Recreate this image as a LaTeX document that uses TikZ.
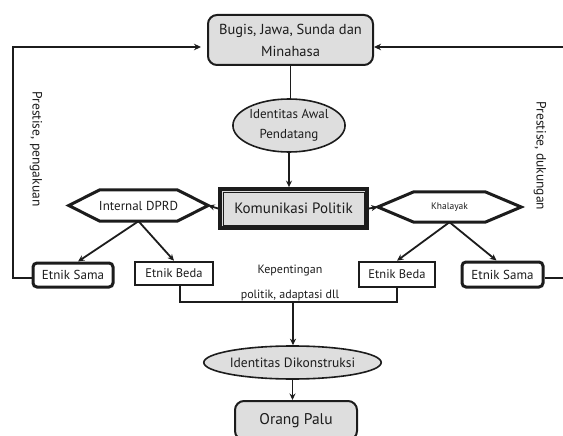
\documentclass[tikz,border=0pt]{standalone}
\usepackage{fontspec}
\setmainfont{PT Sans}
\usetikzlibrary{arrows.meta,calc,shapes.geometric}
\definecolor{boxgray}{RGB}{222,222,222}
\definecolor{ink}{RGB}{28,28,28}
\begin{document}
\begin{tikzpicture}[x=1pt,y=-1pt,
  every node/.style={inner sep=0pt, text=ink},
  roundbox/.style={draw=ink, fill=boxgray, rounded corners=9pt, line width=2pt, align=center},
  ellbox/.style={ellipse, draw=ink, fill=boxgray, line width=1.6pt, align=center},
  samabox/.style={draw=ink, fill=white, rounded corners=4pt, line width=3pt},
  bedabox/.style={draw=ink, fill=white, line width=2.5pt},
  hexline/.style={draw=ink, line width=3pt, line join=miter},
  conn/.style={draw=ink, line width=1.8pt},
  arr/.style={conn, -{Stealth[length=6.5pt,width=6pt]}},
  fb/.style={draw=ink, line width=2pt, -{Stealth[length=7pt,width=6.5pt]}},
  lbl/.style={font=\fontsize{13.5}{16}\selectfont, rotate=-90}
]
\useasboundingbox (0,0) rectangle (563,436);

% top box
\node[roundbox, minimum width=165, minimum height=50,
      font=\fontsize{14.5}{22}\selectfont] (top) at (290.5,40) {Bugis, Jawa, Sunda dan\\Minahasa};

% first ellipse
\node[ellbox, minimum width=108, minimum height=53,
      font=\fontsize{13}{20}\selectfont] (e1) at (289,125.5) {Identitas Awal\\Pendatang};

% Komunikasi Politik
\node[draw=ink, fill=boxgray, line width=3.8pt, minimum width=147, minimum height=39,
      font=\fontsize{15}{18}\selectfont] (kp) at (293.5,208.5) {Komunikasi Politik};
\draw[ink, line width=0.8pt] ($(kp.north west)+(5,5)$) rectangle ($(kp.south east)+(-5,-5)$);

% hexagons
\node[minimum width=139, minimum height=31, font=\fontsize{13}{15}\selectfont] (h1) at (138.5,205.5) {Internal DPRD};
\draw[hexline] (h1.west) -- ($(h1.north west)+(31,0)$) -- ($(h1.north east)+(-31,0)$) -- (h1.east)
  -- ($(h1.south east)+(-31,0)$) -- ($(h1.south west)+(31,0)$) -- cycle;
\node[minimum width=143, minimum height=30, font=\fontsize{9.5}{11}\selectfont] (h2) at (449.5,207) {Khalayak};
\draw[hexline] (h2.west) -- ($(h2.north west)+(36,0)$) -- ($(h2.north east)+(-36,0)$) -- (h2.east)
  -- ($(h2.south east)+(-36,0)$) -- ($(h2.south west)+(36,0)$) -- cycle;

% etnik boxes
\node[samabox, minimum width=80, minimum height=24, font=\fontsize{13}{15}\selectfont] (es1) at (73,275) {Etnik Sama};
\node[bedabox, minimum width=78, minimum height=23, font=\fontsize{12.5}{15}\selectfont] (eb1) at (174,273.5) {Etnik Beda};
\node[bedabox, minimum width=76, minimum height=25, font=\fontsize{12.5}{15}\selectfont] (eb2) at (397,274.5) {Etnik Beda};
\node[samabox, minimum width=81, minimum height=25, font=\fontsize{13}{15}\selectfont] (es2) at (502.5,274.5) {Etnik Sama};

% middle text
\node[align=center, font=\fontsize{12}{25}\selectfont] (kt) at (290,283) {Kepentingan\\politik, adaptasi dll};

% second ellipse and final box
\node[ellbox, minimum width=139, minimum height=33,
      font=\fontsize{13.5}{16}\selectfont] (e2) at (292.5,362.5) {Identitas Dikonstruksi};
\node[roundbox, minimum width=122, minimum height=39,
      font=\fontsize{15.5}{18}\selectfont] (op) at (296,420.5) {Orang Palu};

% vertical connectors
\draw[conn] (top.south) -- (top.south |- e1.north);
\draw[arr] (e1.south) -- (e1.south |- kp.north);
\draw[arr] (kp.west) -- (h1.east);
\draw[arr] (kp.east) -- (h2.west);

% from hexagons to etnik boxes
\draw[arr] (h1.south) -- ($(es1.north)+(5,0)$);
\draw[arr] (h1.south) -- (eb1.north);
\draw[arr] (h2.south) -- (eb2.north);
\draw[arr] (h2.south) -- ($(es2.north)+(-6,0)$);

% bracket to second ellipse
\coordinate (j) at (293,302);
\draw[conn] ($(eb1.south)+(6,0)$) |- (eb2.south |- j) -- (eb2.south);
\draw[arr] (j) -- (j |- e2.north);
\draw[arr] (e2.south) -- (e2.south |- op.north);

% feedback loops
\coordinate (lc1) at (13,278);
\coordinate (lc2) at (13,47);
\coordinate (rc1) at (567,278);
\coordinate (rc2) at (567,47);
\draw[fb, shorten >=6pt] (es1.west |- lc1) -- (lc1) -- (lc2) -- (lc2 -| top.west);
\draw[fb] (es2.east |- rc1) -- (rc1) -- (rc2) -- (rc2 -| top.east);

\node[lbl] (lp) at (36,149) {Prestise, pengakuan};
\node[lbl] (rp) at (540,156) {Prestise, dukungan};
\end{tikzpicture}
\end{document}
